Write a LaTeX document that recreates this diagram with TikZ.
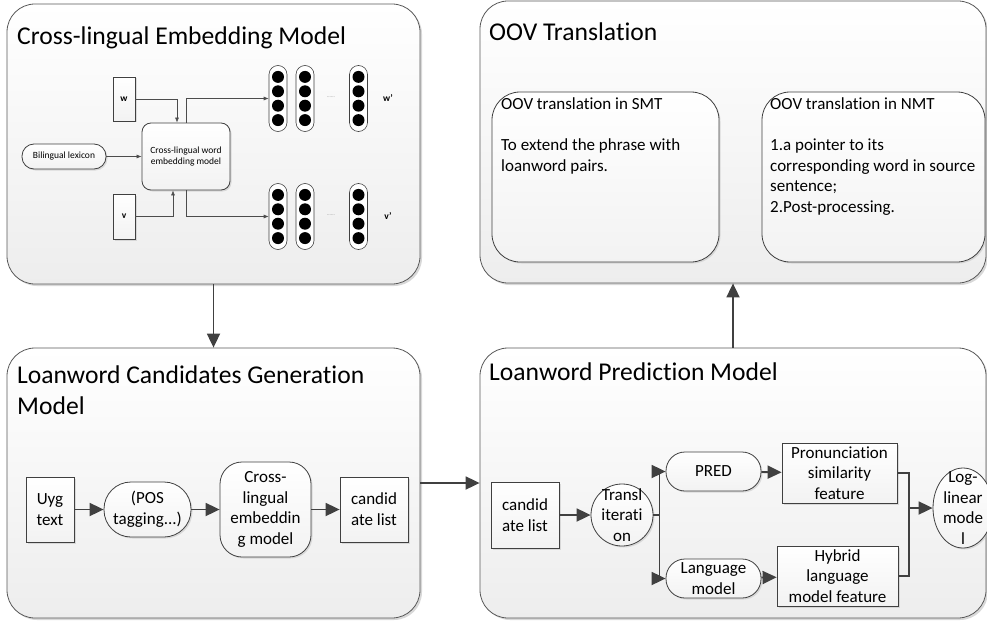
\documentclass[tikz,border=0pt]{standalone}
\usepackage{fontspec}
\setmainfont{Carlito}[Ligatures=NoCommon]
\usetikzlibrary{arrows.meta,shapes.geometric,shadows}

\begin{document}
\begin{tikzpicture}[x=1pt,y=-1pt,
    panel/.style={draw=black!65, line width=0.8pt, rounded corners=28, top color=white, bottom color=black!7,
      drop shadow={shadow xshift=2pt,shadow yshift=-2pt,fill=black!30}},
    boxnode/.style={draw=black!75, line width=0.8pt, top color=white, bottom color=black!5,
      drop shadow={shadow xshift=1.5pt,shadow yshift=-1.5pt,fill=black!25}},
    heading/.style={anchor=north west, inner sep=0pt, align=left, font=\fontsize{25.6}{31.5}\selectfont},
    txt/.style={inner sep=0pt, align=center, font=\fontsize{17}{20.7}\selectfont},
    smalltext/.style={inner sep=0pt, align=center, font=\fontsize{9.5}{11.6}\selectfont},
    flowthin/.style={draw=black!70, line width=0.6pt, -{Latex[length=5,width=4]}},
    flowbold/.style={draw=black!75, line width=1.8pt, -{Triangle[length=14,width=13]}},
    joinline/.style={draw=black!75, line width=1.8pt}]
	\useasboundingbox (0,0) rectangle (987,623);

	% the four panels
	\node[panel, minimum width=413, minimum height=280] (emb)  at (213.5,144) {};
	\node[panel, minimum width=506, minimum height=282] (oov)  at (733,142)   {};
	\node[panel, minimum width=413, minimum height=270] (gen)  at (213.5,483) {};
	\node[panel, minimum width=506, minimum height=270] (pred) at (733,483)   {};
	\node[heading] (embtitle)  at (17,26.5)   {Cross-lingual Embedding Model};
	\node[heading] (oovtitle)  at (489,22.5)  {OOV Translation};
	\node[heading] (gentitle)  at (17,365.5)  {Loanword Candidates Generation\\Model};
	\node[heading] (predtitle) at (489,362.5) {Loanword Prediction Model};

	% cross-lingual embedding model
	\node[boxnode, smalltext, minimum width=22, minimum height=44] (wbox) at (124,99)    {\textbf{w}};
	\node[boxnode, smalltext, minimum width=22, minimum height=45] (vbox) at (124,216.5) {\textbf{v}};
	\node[boxnode, smalltext, rounded corners=12, minimum width=84, minimum height=25] (lex) at (64,156.5) {Bilingual lexicon};
	\node[boxnode, smalltext, rounded corners=9, minimum width=88, minimum height=67] (cwe) at (186,156.5) {Cross-lingual word\\embedding model};
	\def\columns {w1/278/98.5, w2/305/98.5, w3/358.5/98.5, v1/278/216.5, v2/305/216.5, v3/358.5/216.5}  % list elements
	\foreach \name/\cx/\cy in \columns
	{	\node[draw=black!75, line width=0.6pt, fill=white, rounded corners=9, minimum width=18, minimum height=66] (\name) at (\cx,\cy) {};
		\foreach \dy in {-21.6,-7.2,7.2,21.6}
			\fill (\cx,\cy+\dy) circle (6);
	}
	\node[font=\fontsize{5}{6}\selectfont, text=black!50] (wdots) at (331,97)  {......};
	\node[font=\fontsize{5}{6}\selectfont, text=black!50] (vdots) at (331,215) {......};
	\node[smalltext, font=\fontsize{9.5}{11.6}\selectfont\bfseries] (wlab) at (388,98.5)  {w’};
	\node[smalltext, font=\fontsize{9.5}{11.6}\selectfont\bfseries] (vlab) at (388,216.5) {v’};
	\draw[flowthin] (wbox.east) -| ([xshift=-9]cwe.north);
	\draw[flowthin] (vbox.east) -| ([xshift=-13]cwe.south);
	\draw[flowthin] (lex) -- (cwe);
	\draw[flowthin] (cwe.north) |- (w1.west);
	\draw[flowthin] (cwe.south) |- (v1.west);

	% OOV translation
	\node[boxnode, rounded corners=28, minimum width=227, minimum height=170] (smt) at (605.5,177) {};
	\node[boxnode, rounded corners=28, minimum width=223, minimum height=170] (nmt) at (873.5,177) {};
	\node[txt, anchor=north west, align=left] (smttext) at (501,97)
		{OOV translation in SMT\\[20.7pt]To extend the phrase with\\loanword pairs.};
	\node[txt, anchor=north west, align=left] (nmttext) at (770,97)
		{OOV translation in NMT\\[20.7pt]1.a pointer to its\\corresponding word in source\\sentence;\\2.Post-processing.};

	% loanword candidates generation
	\node[boxnode, txt, minimum width=48, minimum height=65] (uyg) at (50,509.5) {Uyg\\text};
	\node[boxnode, txt, rounded corners=27, minimum width=87, minimum height=55] (pos) at (147.5,509.5) {(POS\\tagging...)};
	\node[boxnode, txt, rounded corners=22, minimum width=91, minimum height=95] (cle) at (265.5,509.5) {Cross-\\lingual\\embeddin\\g model};
	\node[boxnode, txt, minimum width=68, minimum height=65] (cand) at (374,509.5) {candid\\ate list};
	\foreach \u\v in {uyg/pos, pos/cle, cle/cand}
	{	\draw[flowbold] (\u) -- (\v);
	}

	% loanword prediction
	\node[boxnode, txt, minimum width=68, minimum height=66] (cand2) at (525,515) {candid\\ate list};
	\node[boxnode, txt, circle, inner sep=-10pt, minimum size=62] (trans) at (622,515) {Transl\\iterati\\on};
	\node[boxnode, txt, rounded corners=19, minimum width=95, minimum height=39] (predn) at (713.5,471.5) {PRED};
	\node[boxnode, txt, rounded corners=19, minimum width=95, minimum height=39] (lm) at (713.5,578.5) {Language\\model};
	\node[boxnode, txt, minimum width=115, minimum height=60] (psf) at (839.5,473) {Pronunciation\\similarity\\feature};
	\node[boxnode, txt, minimum width=121, minimum height=60] (hlmf) at (837.5,576) {Hybrid\\language\\model feature};
	\node[boxnode, txt, ellipse, inner sep=-14pt, minimum width=60, minimum height=80] (loglin) at (963,508) {Log-\\linear\\mode\\l};
	\draw[flowbold] (cand2) -- (trans);
	\draw[joinline] (trans.east) -- ++(6,0) coordinate (fork);
	\foreach \v in {predn, lm}
	{	\draw[flowbold] (fork) |- (\v.west);
	}
	\draw[flowbold] (predn) -- (psf);
	\draw[flowbold] (lm) -- (hlmf);
	\coordinate (join) at (909,508);
	\draw[joinline] (psf.east) -| (join) |- (hlmf.east);
	\draw[flowbold] (join) -- (loglin);

	% between the panels
	\draw[flowbold] (emb) -- (gen);
	\draw[flowbold] (gen.east) -- (pred.west);
	\draw[flowbold] (pred) -- (oov);
\end{tikzpicture}
\end{document}
